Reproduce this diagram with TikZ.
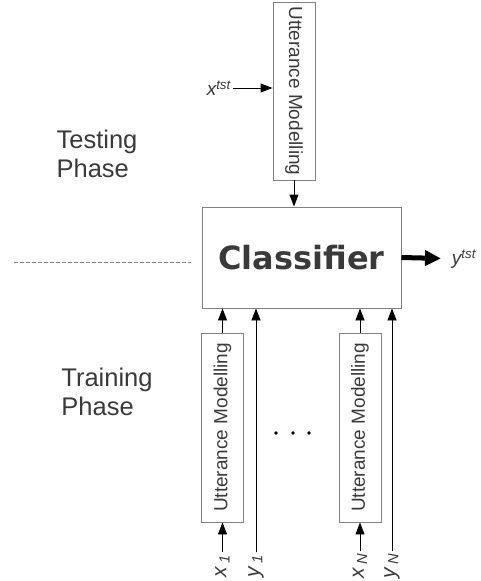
\documentclass[tikz,border=0pt]{standalone}
\usepackage{fontspec}
\setmainfont{Liberation Sans}
\newfontfamily\clsfont{DejaVu Sans}
\usetikzlibrary{arrows.meta}
\definecolor{txt}{HTML}{3A3A3A}
\definecolor{edge}{HTML}{808080}
\begin{document}
\begin{tikzpicture}[x=1pt,y=-1pt,
    umbox/.style={draw=edge, line width=0.9pt, text=txt, minimum height=42pt, inner sep=0pt,
      font=\fontsize{19}{22}\selectfont},
    arr/.style={-{Triangle[length=12pt,width=9pt]}, line width=0.9pt},
    lab/.style={font=\fontsize{19}{22}\selectfont, text=txt, inner sep=2pt},
    phase/.style={font=\fontsize{25.5}{29}\selectfont, text=txt, align=left}]
    \useasboundingbox (0,0) rectangle (480,581);

    \node [umbox, rotate=-90, minimum width=178pt] (UT) at (294,91) {Utterance Modelling};
    \node [draw=edge, line width=0.9pt, minimum width=199pt, minimum height=101pt] (C) at (301.5,257.5)
        {\clsfont\bfseries\color{txt}\fontsize{32}{36}\selectfont Classifier};
    \node [umbox, rotate=90, minimum width=189pt] (U1) at (222.5,427.5) {Utterance Modelling};
    \node [umbox, rotate=90, minimum width=189pt] (UN) at (360,427.5) {Utterance Modelling};

    \node [lab, anchor=east] (XT) at (233,88) {\itshape x\textsuperscript{tst}};
    \node [lab, outer sep=9pt] (YT) at (464,259) {\itshape y\textsuperscript{tst}};
    \node [lab, rotate=90, fill=white, font=\fontsize{21}{24}\selectfont] (X1) at (222.5,566) {\itshape x\,\textsubscript{1}};
    \node [lab, rotate=90, fill=white, font=\fontsize{21}{24}\selectfont] (Y1) at (256,566) {\itshape y\,\textsubscript{1}};
    \node [lab, rotate=90, fill=white, font=\fontsize{21}{24}\selectfont] (XN) at (360,566) {\itshape x\,\textsubscript{N}};
    \node [lab, rotate=90, fill=white, font=\fontsize{21}{24}\selectfont] (YN) at (392,566) {\itshape y\,\textsubscript{N}};

    \node [phase] (TE) at (97,154) {Testing\\Phase};
    \node [phase] (TR) at (107,392) {Training\\Phase};

    \coordinate (DL) at (14,262);
    \coordinate (DR) at (191,262);
    \draw [edge, line width=0.9pt, dash pattern=on 3.5pt off 2.5pt] (DL) -- (DR);

    \draw [arr] (XT.east) -- (XT.east -| UT.south);
    \draw [arr] (UT) -- (UT |- C.north);
    \draw [-{Triangle[length=16pt,width=15pt]}, line width=5pt] (C.east) -- (YT);

    \draw [arr] (X1) -- (U1);
    \draw [arr] (U1) -- (U1 |- C.south);
    \draw [arr] (Y1) -- (Y1 |- C.south);
    \draw [arr] (XN) -- (UN);
    \draw [arr] (UN) -- (UN |- C.south);
    \draw [arr] (YN) -- (YN |- C.south);

    \foreach \x in {276,293,309}
        \fill (\x,433) circle (1.8pt);
\end{tikzpicture}
\end{document}
